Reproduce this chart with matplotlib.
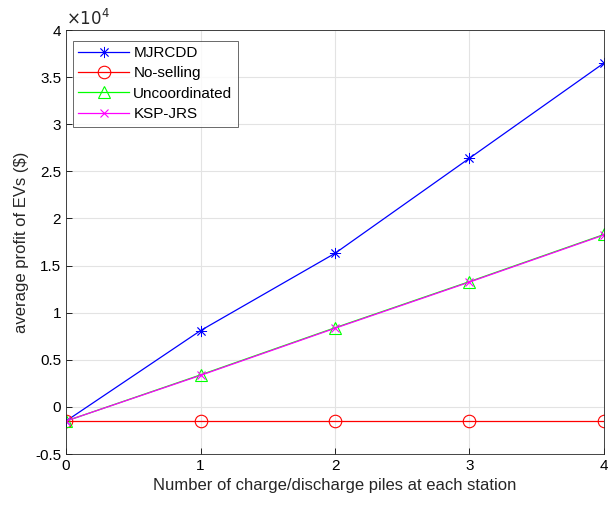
import matplotlib
matplotlib.use("Agg")
import matplotlib.pyplot as plt

plt.rcParams['font.family'] = ['Liberation Sans', 'DejaVu Sans']

x = [0, 1, 2, 3, 4]
mjrcdd = [-1500, 8100, 16300, 26400, 36500]
no_selling = [-1500, -1500, -1500, -1500, -1500]
uncoord = [-1500, 3400, 8400, 13300, 18300]
ksp_jrs = [-1500, 3350, 8350, 13250, 18250]
scale = 1e4
yticks = [-0.5, 0, 0.5, 1, 1.5, 2, 2.5, 3, 3.5, 4]
ytick_labels = ['-0.5', '0', '0.5', '1', '1.5', '2', '2.5', '3', '3.5', '4']

fig = plt.figure(figsize=(6.08, 5.09), dpi=100)
ax = fig.add_axes([0.1086, 0.108, 0.8848, 0.833])

ax.plot(x, [v / scale for v in mjrcdd], color='blue', lw=0.9, marker=(8, 2, 0), ms=8,
        markeredgewidth=0.6, label='MJRCDD')
ax.plot(x, [v / scale for v in no_selling], color='red', lw=0.9, marker='o', ms=9,
        markerfacecolor='none', markeredgewidth=0.8, label='No-selling')
ax.plot(x, [v / scale for v in uncoord], color='#00ff00', lw=0.9, marker='^', ms=9,
        markerfacecolor='none', markeredgewidth=0.8, label='Uncoordinated')
ax.plot(x, [v / scale for v in ksp_jrs], color='magenta', lw=0.9, marker='x', ms=6,
        markeredgewidth=0.8, label='KSP-JRS')

ax.set_xlim(0, 4)
ax.set_ylim(-0.5, 4)
ax.set_xticks(x)
ax.set_yticks(yticks)
ax.set_yticklabels(ytick_labels)
ax.tick_params(direction='in', labelsize=11, length=4, width=0.6)
ax.grid(True, color='#e3e3e3', lw=0.8)
ax.set_axisbelow(True)
for s in ax.spines.values():
    s.set_linewidth(0.6)
    s.set_color('#262626')
ax.set_xlabel('Number of charge/discharge piles at each station', fontsize=12, color='#262626')
ax.set_ylabel('average profit of EVs ($)', fontsize=12, color='#262626')
ax.text(0.0, 1.005, r'$\times10^{4}$', transform=ax.transAxes, fontsize=12,
        ha='left', va='bottom', color='#262626')

leg = ax.legend(loc='upper left', bbox_to_anchor=(0.013, 0.975), fontsize=11,
                frameon=True, fancybox=False, edgecolor='#262626',
                borderpad=0.35, labelspacing=0.42, handlelength=3.3, handletextpad=0.3,
                borderaxespad=0)
leg.get_frame().set_linewidth(0.6)

fig.savefig('out.png', dpi=100)
